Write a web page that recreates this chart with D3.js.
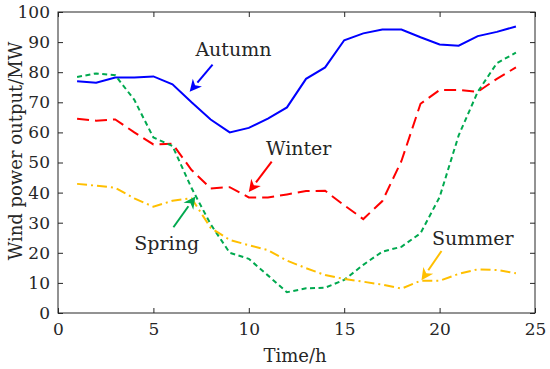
<!DOCTYPE html>
<html>
<head>
<meta charset="utf-8">
<script src="https://cdn.jsdelivr.net/npm/d3@7"></script>
<style>
  body { margin: 0; background: #fff; }
  text { font-family: "DejaVu Serif", serif; fill: #262626; }
</style>
</head>
<body>
<script>
var hours = d3.range(1, 25);
var autumn = [77, 76.5, 78.2, 78.2, 78.6, 76, 70, 64.3, 60, 61.5, 64.6, 68.3, 77.8, 81.6, 90.6, 92.9, 94.2, 94.2, 91.6, 89.2, 88.8, 92, 93.4, 95.2];
var winter = [64.5, 63.9, 64.3, 60, 56, 56.2, 47.5, 41.4, 41.8, 38.4, 38.4, 39.4, 40.5, 40.6, 35.8, 31.2, 37.2, 50.5, 69.5, 74.1, 74.1, 73.5, 77.8, 81.6];
var spring = [78.4, 79.6, 79, 70.8, 58.3, 55.5, 41.5, 29.5, 20, 18, 12.5, 6.9, 8.2, 8.4, 11, 16, 20.4, 22, 26.5, 38.5, 59, 73.5, 83, 86.5];
var summer = [42.9, 42.3, 41.6, 38.1, 35.3, 37.3, 38.1, 28.3, 24.3, 22.5, 20.9, 17.4, 14.9, 12.6, 11.3, 10.4, 9.4, 8.1, 10.7, 10.7, 13, 14.5, 14.3, 13.2];
var xTicks = [0, 5, 10, 15, 20, 25];
var yTicks = [0, 10, 20, 30, 40, 50, 60, 70, 80, 90, 100];

var margin = {top: 12, right: 15, bottom: 56, left: 58};
var width = 550 - margin.left - margin.right;
var height = 369 - margin.top - margin.bottom;

var svg = d3.select("body").append("svg")
    .attr("width", 550)
    .attr("height", 369);

var g = svg.append("g")
    .attr("transform", "translate(" + margin.left + "," + margin.top + ")");

var x = d3.scaleLinear().domain([0, 25]).range([0, width]);
var y = d3.scaleLinear().domain([0, 100]).range([height, 0]);

// box
g.append("rect")
    .attr("width", width)
    .attr("height", height)
    .attr("fill", "none")
    .attr("stroke", "#262626")
    .attr("stroke-width", 1);

function styleAxis(sel) {
  sel.select(".domain").remove();
  sel.selectAll("line").attr("stroke", "#262626");
  sel.selectAll("text").style("font-size", "17px").attr("fill", "#262626");
}

g.append("g")
    .attr("transform", "translate(0," + height + ")")
    .call(d3.axisBottom(x).tickValues(xTicks).tickSizeInner(-5).tickPadding(10))
    .call(styleAxis);

g.append("g")
    .call(d3.axisTop(x).tickValues(xTicks).tickSizeInner(-5).tickFormat(""))
    .call(styleAxis);

g.append("g")
    .call(d3.axisLeft(y).tickValues(yTicks).tickSizeInner(-5).tickPadding(8))
    .call(styleAxis);

g.append("g")
    .attr("transform", "translate(" + width + ",0)")
    .call(d3.axisRight(y).tickValues(yTicks).tickSizeInner(-5).tickFormat(""))
    .call(styleAxis);

// axis labels
svg.append("text")
    .attr("x", 295)
    .attr("y", 362)
    .attr("text-anchor", "middle")
    .style("font-size", "18px")
    .text("Time/h");

svg.append("text")
    .attr("transform", "translate(22,151) rotate(-90)")
    .attr("text-anchor", "middle")
    .style("font-size", "18px")
    .text("Wind power output/MW");

var series = [
  {name: "Autumn", values: autumn, color: "#0000ff", dash: null},
  {name: "Winter", values: winter, color: "#ff0000", dash: "12,6"},
  {name: "Spring", values: spring, color: "#00a94f", dash: "5,3.5"},
  {name: "Summer", values: summer, color: "#ffbf00", dash: "10,4,2,4"}
];

var line = d3.line()
    .x(function(d, i) { return x(hours[i]); })
    .y(function(d) { return y(d); });

g.selectAll(".series")
    .data(series)
  .enter().append("path")
    .attr("class", "series")
    .attr("d", function(d) { return line(d.values); })
    .attr("fill", "none")
    .attr("stroke", function(d) { return d.color; })
    .attr("stroke-width", 2)
    .attr("stroke-dasharray", function(d) { return d.dash; });

// annotations: text position and arrow (from -> to) in data units
var notes = [
  {text: "Autumn", color: "#0000ff", tx: 7.2, ty: 85.5, from: [8.1, 82.5], to: [6.9, 73.5]},
  {text: "Winter", color: "#ff0000", tx: 10.9, ty: 52.5, from: [11.2, 50.3], to: [10.0, 40.2]},
  {text: "Spring", color: "#00a94f", tx: 4.0, ty: 21, from: [6.05, 28.5], to: [7.2, 38.7]},
  {text: "Summer", color: "#ffbf00", tx: 19.6, ty: 22.5, from: [20.1, 20.6], to: [19.05, 10.9]}
];

g.selectAll(".note")
    .data(notes)
  .enter().append("text")
    .attr("class", "note")
    .attr("x", function(d) { return x(d.tx); })
    .attr("y", function(d) { return y(d.ty); })
    .style("font-size", "19px")
    .attr("fill", "#000")
    .text(function(d) { return d.text; });

notes.forEach(function(d) {
  var x0 = x(d.from[0]), y0 = y(d.from[1]);
  var x1 = x(d.to[0]), y1 = y(d.to[1]);
  var ang = Math.atan2(y1 - y0, x1 - x0);
  var hl = 12, hw = 6;
  var bx = x1 - hl * Math.cos(ang), by = y1 - hl * Math.sin(ang);
  g.append("line")
      .attr("x1", x0).attr("y1", y0)
      .attr("x2", bx).attr("y2", by)
      .attr("stroke", d.color)
      .attr("stroke-width", 2);
  var px = -Math.sin(ang), py = Math.cos(ang);
  g.append("path")
      .attr("d", "M" + x1 + "," + y1 +
                 "L" + (bx + hw * px) + "," + (by + hw * py) +
                 "L" + (x1 - 0.7 * hl * Math.cos(ang)) + "," + (y1 - 0.7 * hl * Math.sin(ang)) +
                 "L" + (bx - hw * px) + "," + (by - hw * py) + "Z")
      .attr("fill", d.color);
});
</script>
</body>
</html>
